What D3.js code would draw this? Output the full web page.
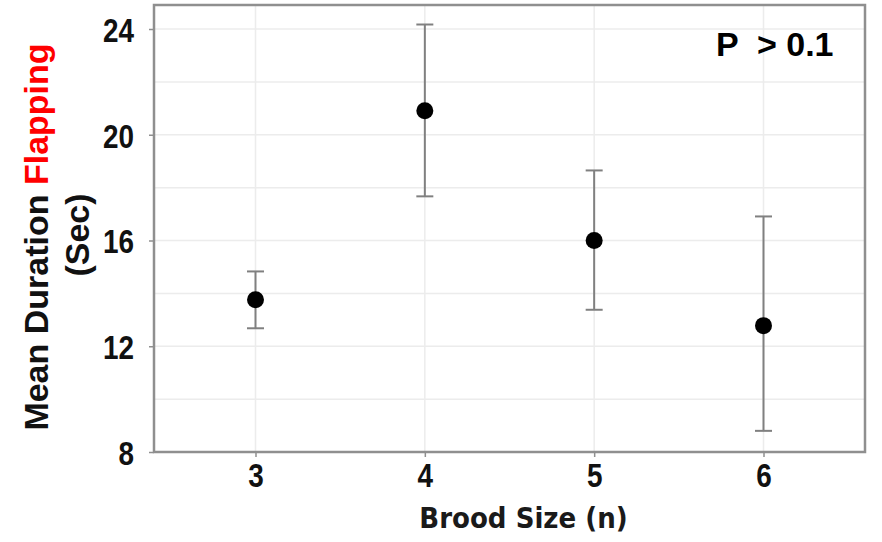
<!DOCTYPE html>
<html>
<head>
<meta charset="utf-8">
<script src="https://cdn.jsdelivr.net/npm/d3@7/dist/d3.min.js"></script>
<style>
  html, body { margin: 0; padding: 0; background: #fff; }
  svg { display: block; }
</style>
</head>
<body>
<script>
// ---- data ----
const broodSizes = [3, 4, 5, 6];
const meanDuration = [13.76, 20.91, 16.0, 12.78];
const upperBound = [14.83, 24.17, 18.65, 16.91];
const lowerBound = [12.68, 17.67, 13.38, 8.80];
const yTickValues = [8, 12, 16, 20, 24];
const yGridValues = [8, 10, 12, 14, 16, 18, 20, 22, 24];
const xTickValues = [3, 4, 5, 6];
const xTitle = "Brood Size (n)";
const yTitleMain = "Mean Duration ";
const yTitleRed = "Flapping";
const yTitleLine2 = "(Sec)";
const pText = "P  > 0.1";

// ---- layout ----
const W = 882, H = 542;
const frame = { left: 154, right: 865, top: 5, bottom: 452 };

const svg = d3.select("body").append("svg").attr("width", W).attr("height", H);

const x = d3.scaleLinear().domain([3, 6]).range([255.5, 763.5]);
const y = d3.scaleLinear().domain([8, 24]).range([452, 29]);

// gridlines
const grid = svg.append("g");
grid.selectAll("line.hg").data(yGridValues).join("line")
  .attr("x1", frame.left).attr("x2", frame.right)
  .attr("y1", d => y(d)).attr("y2", d => y(d))
  .attr("stroke", "#ececec").attr("stroke-width", 1.5);
grid.selectAll("line.vg").data(xTickValues).join("line")
  .attr("y1", frame.top).attr("y2", frame.bottom)
  .attr("x1", d => x(d)).attr("x2", d => x(d))
  .attr("stroke", "#ececec").attr("stroke-width", 1.5);

// frame
svg.append("rect")
  .attr("x", frame.left).attr("y", frame.top)
  .attr("width", frame.right - frame.left).attr("height", frame.bottom - frame.top)
  .attr("fill", "none").attr("stroke", "#8f8f8f").attr("stroke-width", 2.5);

// axes
const tickFont = "'Liberation Sans', Arial, sans-serif";
const narrow = 0.82;
const yAxis = svg.append("g").attr("transform", `translate(${frame.left},0)`)
  .call(d3.axisLeft(y).tickValues(yTickValues).tickSize(5).tickPadding(15).tickFormat(d3.format("d")));
const xAxis = svg.append("g").attr("transform", `translate(0,${frame.bottom})`)
  .call(d3.axisBottom(x).tickValues(xTickValues).tickSize(5).tickPadding(6).tickFormat(d3.format("d")));
[yAxis, xAxis].forEach(a => {
  a.select(".domain").remove();
  a.selectAll(".tick line").attr("stroke", "#8f8f8f").attr("stroke-width", 1.5);
  a.selectAll(".tick text")
    .attr("fill", "#111")
    .style("font-family", tickFont)
    .style("font-weight", "bold")
    .style("font-size", "34px");
});
yAxis.selectAll(".tick text").each(function () {
  const t = d3.select(this);
  const tx = +t.attr("x");
  t.attr("x", 0).attr("dy", "0.36em")
   .attr("transform", `translate(${tx},0) scale(${narrow},1)`);
});
xAxis.selectAll(".tick text").each(function () {
  const t = d3.select(this);
  const ty = +t.attr("y");
  t.attr("y", 0).attr("dy", "0.71em")
   .attr("transform", `translate(0,${ty}) scale(${narrow},1)`);
});

// error bars
const capHalf = 8.5;
const idx = d3.range(broodSizes.length);
const eb = svg.append("g").attr("stroke", "#808080").attr("stroke-width", 2);
eb.selectAll("line.v").data(idx).join("line")
  .attr("x1", i => x(broodSizes[i])).attr("x2", i => x(broodSizes[i]))
  .attr("y1", i => y(upperBound[i])).attr("y2", i => y(lowerBound[i]));
eb.selectAll("line.t").data(idx).join("line")
  .attr("x1", i => x(broodSizes[i]) - capHalf).attr("x2", i => x(broodSizes[i]) + capHalf)
  .attr("y1", i => y(upperBound[i])).attr("y2", i => y(upperBound[i]));
eb.selectAll("line.b").data(idx).join("line")
  .attr("x1", i => x(broodSizes[i]) - capHalf).attr("x2", i => x(broodSizes[i]) + capHalf)
  .attr("y1", i => y(lowerBound[i])).attr("y2", i => y(lowerBound[i]));

// points
svg.append("g").selectAll("circle").data(idx).join("circle")
  .attr("cx", i => x(broodSizes[i])).attr("cy", i => y(meanDuration[i]))
  .attr("r", 8.5).attr("fill", "#000");

// P annotation
svg.append("text")
  .attr("x", 716).attr("y", 56)
  .attr("fill", "#000")
  .style("white-space", "pre")
  .attr("xml:space", "preserve")
  .style("font-family", "'Liberation Sans', Arial, sans-serif")
  .style("font-weight", "bold")
  .style("font-size", "34px")
  .text(pText);

// x title
svg.append("text")
  .attr("x", 523.5).attr("y", 528)
  .attr("text-anchor", "middle")
  .attr("fill", "#1a1a1a")
  .style("font-family", "'DejaVu Sans Condensed', 'DejaVu Sans', sans-serif")
  .style("font-weight", "bold")
  .style("font-size", "29px")
  .text(xTitle);

// y title
const yCenter = 237;
const yt = svg.append("text")
  .attr("transform", `translate(48,${yCenter}) rotate(-90)`)
  .attr("text-anchor", "middle")
  .attr("fill", "#111")
  .style("font-family", "'Liberation Sans', Arial, sans-serif")
  .style("font-weight", "bold")
  .style("font-size", "34px");
yt.append("tspan").text(yTitleMain);
yt.append("tspan").attr("fill", "#ff0000").text(yTitleRed);

svg.append("text")
  .attr("transform", `translate(89,${yCenter - 2}) rotate(-90)`)
  .attr("text-anchor", "middle")
  .attr("fill", "#111")
  .style("font-family", "'Liberation Sans', Arial, sans-serif")
  .style("font-weight", "bold")
  .style("font-size", "34px")
  .text(yTitleLine2);
</script>
</body>
</html>
